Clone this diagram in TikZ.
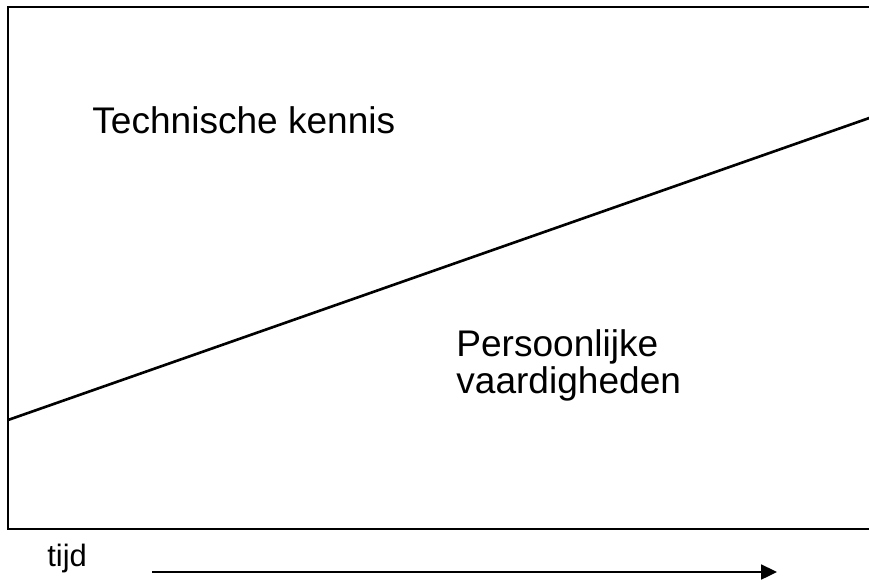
\documentclass[tikz,border=0pt]{standalone}
\usepackage{fontspec}
\setmainfont{Liberation Sans}
\usetikzlibrary{arrows.meta}

\begin{document}
\begin{tikzpicture}[x=0.02cm, y=-0.02cm,
  label/.style={anchor=base west, inner sep=0pt, align=left, font=\fontsize{21.1}{20.5}\selectfont},
  small/.style={anchor=base west, inner sep=0pt, font=\fontsize{17.6}{20}\selectfont},
  frame/.style={line width=1.15pt},
  split/.style={line width=1.5pt},
  axis/.style={line width=1.1pt, -{Triangle[length=9pt,width=8.5pt]}}]
  \useasboundingbox (0,0) rectangle (869,579);
  \coordinate (tr) at (875,7);
  \coordinate (tl) at (8,7);
  \coordinate (bl) at (8,529);
  \coordinate (br) at (875,529);
  \coordinate (lo) at (8,420);
  \coordinate (hi) at (875,116);
  \coordinate (start) at (152,572);
  \coordinate (end) at (777,572);
  \draw[frame] (tr) -- (tl) -- (bl) -- (br);
  \draw[split] (lo) -- (hi);
  \node[label] (tech) at (92,133) {Technische kennis};
  % base of a two-line node sits on its last line
  \node[label] (pers) at (456,393) {Persoonlijke\\vaardigheden};
  \node[small] (tijd) at (47,566) {tijd};
  \draw[axis] (start) -- (end);
\end{tikzpicture}
\end{document}
